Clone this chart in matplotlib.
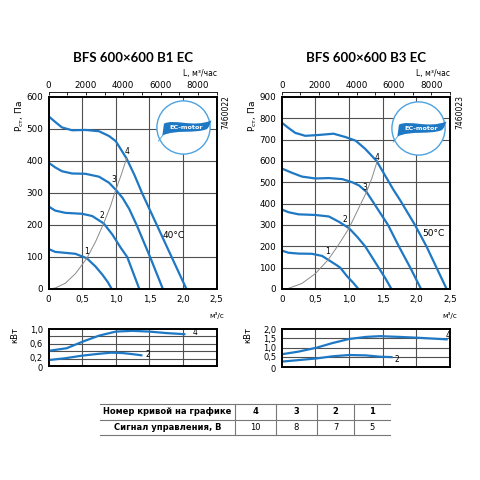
import numpy as np
import matplotlib.pyplot as plt
import matplotlib.transforms as mtransforms
from matplotlib.patches import Circle, PathPatch
from matplotlib.path import Path
from matplotlib.lines import Line2D

# ---- BFS 600x600 B1 EC (left) : flow m3/s, static pressure Pa ----
b1_q4 = [0, 0.1, 0.2, 0.35, 0.55, 0.75, 0.9, 1.0, 1.16, 1.28, 1.39, 1.61, 1.83, 2.05]
b1_p4 = [540, 522, 505, 496, 497, 493, 478, 462, 408, 355, 300, 200, 100, 0]
b1_q3 = [0, 0.1, 0.2, 0.35, 0.55, 0.75, 0.9, 1.0, 1.1, 1.2, 1.31, 1.51, 1.70]
b1_p3 = [395, 380, 368, 361, 360, 351, 332, 310, 285, 250, 200, 100, 0]
b1_q2 = [0, 0.1, 0.25, 0.5, 0.65, 0.82, 0.95, 1.07, 1.17, 1.26, 1.35]
b1_p2 = [258, 245, 238, 235, 228, 205, 170, 130, 100, 50, 0]
b1_q1 = [0, 0.1, 0.25, 0.4, 0.57, 0.7, 0.8, 0.88, 0.94]
b1_p1 = [125, 116, 113, 110, 96, 70, 45, 22, 0]
b1_sys_q = [0, 0.1, 0.25, 0.4, 0.5, 0.57, 0.7, 0.82, 0.92, 1.0, 1.08, 1.16]
b1_sys_p = [0, 3, 18, 48, 76, 96, 148, 205, 258, 310, 356, 408]
b1_pw_q4 = [0, 0.27, 0.51, 0.75, 1.0, 1.25, 1.5, 1.75, 2.02]
b1_pw_n4 = [0.41, 0.48, 0.66, 0.82, 0.93, 0.95, 0.93, 0.89, 0.86]
b1_pw_q2 = [0, 0.25, 0.5, 0.75, 0.93, 1.1, 1.25, 1.38]
b1_pw_n2 = [0.16, 0.21, 0.28, 0.33, 0.36, 0.35, 0.32, 0.29]

# ---- BFS 600x600 B3 EC (right) ----
b3_q4 = [0, 0.1, 0.2, 0.35, 0.55, 0.77, 0.95, 1.1, 1.24, 1.41, 1.66, 1.76, 1.98, 2.15, 2.30, 2.45]
b3_p4 = [780, 755, 732, 718, 722, 728, 712, 695, 657, 600, 465, 416, 300, 200, 100, 0]
b3_q3 = [0, 0.15, 0.3, 0.5, 0.7, 0.9, 1.05, 1.15, 1.26, 1.4, 1.58, 1.74, 1.91, 2.07]
b3_p3 = [565, 545, 527, 518, 520, 515, 500, 485, 455, 387, 300, 200, 100, 0]
b3_q2 = [0, 0.1, 0.25, 0.5, 0.7, 0.85, 1.0, 1.12, 1.24, 1.34, 1.44, 1.54, 1.63]
b3_p2 = [373, 360, 350, 347, 340, 315, 285, 245, 200, 150, 100, 50, 0]
b3_q1 = [0, 0.1, 0.25, 0.45, 0.6, 0.69, 0.8, 0.87, 0.97, 1.06, 1.14]
b3_p1 = [180, 170, 166, 165, 155, 137, 115, 100, 60, 30, 0]
b3_sys_q = [0, 0.1, 0.3, 0.5, 0.69, 0.85, 1.0, 1.13, 1.26, 1.34, 1.42]
b3_sys_p = [0, 3, 26, 72, 137, 210, 285, 370, 455, 520, 600]
b3_pw_q4 = [0, 0.25, 0.52, 0.75, 1.0, 1.25, 1.46, 1.75, 2.0, 2.25, 2.45]
b3_pw_n4 = [0.66, 0.8, 1.01, 1.25, 1.47, 1.58, 1.62, 1.58, 1.54, 1.49, 1.45]
b3_pw_q2 = [0, 0.25, 0.52, 0.75, 1.0, 1.25, 1.46, 1.63]
b3_pw_n2 = [0.27, 0.35, 0.44, 0.55, 0.62, 0.6, 0.53, 0.51]

x_ticks = [0, 0.5, 1.0, 1.5, 2.0, 2.5]
x_labels = ['0', '0,5', '1,0', '1,5', '2,0', '2,5']
top_ticks = [0, 2000, 4000, 6000, 8000]

curve_numbers = ['4', '3', '2', '1']
control_signal = ['10', '8', '7', '5']

BLUE = '#1f78c4'
GRID = '#505050'
FS = 6.3

fig = plt.figure(figsize=(4.8, 4.8), dpi=100)


def px_rect(x0, y0, x1, y1):
    return [x0 / 480, 1 - y1 / 480, (x1 - x0) / 480, (y1 - y0) / 480]


def style_box(ax):
    for s in ax.spines.values():
        s.set_linewidth(1.4)
        s.set_color('black')


def draw_logo(rect):
    lg = fig.add_axes(rect)
    lg.set_xlim(-1.05, 1.05)
    lg.set_ylim(-1.05, 1.05)
    lg.set_aspect('equal')
    lg.axis('off')
    lg.add_patch(Circle((0, 0), 0.98, facecolor='white', edgecolor='#4da3e0', lw=1.0))
    verts = [(-0.72, 0.14),
             (-0.35, 0.34), (0.35, -0.02), (1.03, 0.26),
             (0.97, 0.1), (0.93, -0.0), (0.86, -0.06),
             (0.4, -0.24), (-0.3, -0.06), (-0.78, -0.3),
             (-0.72, 0.14)]
    codes = [Path.MOVETO, Path.CURVE4, Path.CURVE4, Path.CURVE4,
             Path.CURVE4, Path.CURVE4, Path.CURVE4,
             Path.CURVE4, Path.CURVE4, Path.CURVE4, Path.CLOSEPOLY]
    lg.add_patch(PathPatch(Path(verts, codes), facecolor='#1f78c4', edgecolor='none'))
    lg.plot([-0.76, -0.85, -0.93], [-0.28, -0.4, -0.5], color='#4da3e0', lw=0.6)
    lg.text(0.08, -0.0, 'EC-motor', color='white', fontsize=4.6, fontweight='bold',
            ha='center', va='center')


def draw_panel(x0, x1, ymax, ystep, curves, sysq, sysp, labels, temp, power, pw_ticks,
               pw_labels, pw_max, pw_step, pw_labelpos, title, code, pw_bottom):
    ax = fig.add_axes(px_rect(x0, 97, x1, 289))
    for q in x_ticks[1:-1]:
        ax.axvline(q, color=GRID, lw=0.8, zorder=0)
    for p in np.arange(ystep, ymax, ystep):
        ax.axhline(p, color=GRID, lw=0.8, zorder=0)
    for q, p in curves:
        ax.plot(q, p, color=BLUE, lw=1.6, solid_capstyle='round')
    ax.plot(sysq, sysp, color='#8a8a8a', lw=0.7)
    for txt, (lx, ly) in labels.items():
        ax.text(lx, ly, txt, fontsize=5.5, ha='center', va='center')
    ax.text(temp[1], temp[2], temp[0], fontsize=6.5, ha='center', va='center')
    ax.set_xlim(0, 2.5)
    ax.set_ylim(0, ymax)
    ax.set_xticks(x_ticks)
    ax.set_xticklabels(x_labels)
    ax.set_yticks(np.arange(0, ymax + 1, ystep))
    ax.tick_params(length=0, labelsize=FS, pad=4)
    style_box(ax)
    ax.text(1.0, -0.12, 'м³/с', transform=ax.transAxes, fontsize=5.2, ha='center', va='top')
    ax.text(-0.17, 0.9, 'Р$_{\\mathregular{ст}}$, Па', transform=ax.transAxes, rotation=90,
            fontsize=6.5, ha='center', va='center')
    ax.text(1.03, 0.92, code, transform=ax.transAxes, rotation=90, fontsize=5.5,
            ha='left', va='center')

    sec = ax.secondary_xaxis(1.027, functions=(lambda v: v * 3600, lambda v: v / 3600))
    sec.set_xticks(top_ticks)
    sec.set_xticks(np.arange(0, 9001, 1000), minor=True)
    sec.tick_params(which='both', direction='in', length=2.5, width=0.6, labelsize=FS, pad=1)
    sec.spines['top'].set_linewidth(0.6)
    ax.text(1.0, 1.1, 'L, м³/час', transform=ax.transAxes, fontsize=5.5, ha='right', va='bottom')
    ax.set_title(title, fontsize=9.5, fontweight='bold', family='Lato', pad=25)

    pw = fig.add_axes(px_rect(x0, 329, x1, pw_bottom))
    for q in x_ticks[1:-1]:
        pw.axvline(q, color=GRID, lw=0.8, zorder=0)
    for n in np.arange(pw_step, pw_max - 1e-6, pw_step):
        pw.axhline(n, color=GRID, lw=0.8, zorder=0)
    for (q, n), (lbl, lx, ly) in zip(power, pw_labelpos):
        pw.plot(q, n, color=BLUE, lw=1.6)
        pw.text(lx, ly, lbl, fontsize=5.5, ha='center', va='center')
    pw.set_xlim(0, 2.5)
    pw.set_ylim(0, pw_max)
    pw.set_xticks([])
    pw.set_yticks(pw_ticks)
    pw.set_yticklabels(pw_labels)
    pw.tick_params(length=0, labelsize=6.0, pad=4)
    labs = pw.get_yticklabels()
    # the two lowest labels sit close together: pull them slightly apart
    labs[0].set_transform(labs[0].get_transform() +
                          mtransforms.ScaledTranslation(0, -1.5 / 100, fig.dpi_scale_trans))
    labs[1].set_transform(labs[1].get_transform() +
                          mtransforms.ScaledTranslation(0, 1.0 / 100, fig.dpi_scale_trans))
    style_box(pw)
    pw.text(-0.2, 0.85, 'кВт', transform=pw.transAxes, rotation=90, fontsize=6,
            ha='center', va='center')
    return ax


draw_panel(48.5, 216.7, 600, 100,
           [(b1_q4, b1_p4), (b1_q3, b1_p3), (b1_q2, b1_p2), (b1_q1, b1_p1)],
           b1_sys_q, b1_sys_p,
           {'4': (1.17, 429), '3': (0.97, 343), '2': (0.79, 231), '1': (0.57, 117)},
           ('40°C', 1.86, 167),
           [(b1_pw_q4, b1_pw_n4), (b1_pw_q2, b1_pw_n2)],
           [0, 0.2, 0.6, 1.0], ['0', '0,2', '0,6', '1,0'], 1.0, 0.2,
           [('4', 2.18, 0.9), ('2', 1.47, 0.3)],
           'BFS 600×600 B1 EC', '7460022', 366)

draw_panel(281.7, 450, 900, 100,
           [(b3_q4, b3_p4), (b3_q3, b3_p3), (b3_q2, b3_p2), (b3_q1, b3_p1)],
           b3_sys_q, b3_sys_p,
           {'4': (1.42, 618), '3': (1.24, 478), '2': (0.94, 326), '1': (0.68, 176)},
           ('50°C', 2.25, 261),
           [(b3_pw_q4, b3_pw_n4), (b3_pw_q2, b3_pw_n2)],
           [0, 0.5, 1.0, 1.5, 2.0], ['0', '0,5', '1,0', '1,5', '2,0'], 2.0, 0.5,
           [('4', 2.47, 1.68), ('2', 1.71, 0.36)],
           'BFS 600×600 B3 EC', '7460023', 366.7)

draw_logo(px_rect(155, 99, 212, 156))
draw_logo(px_rect(390, 100, 447, 157))

# ---- table ----
col_edges = [100, 235, 276, 317, 354, 390]
row_lines = [404, 419.5, 435]
for y in row_lines:
    fig.add_artist(Line2D([col_edges[0] / 480, col_edges[-1] / 480], [1 - y / 480] * 2,
                          color='#777777', lw=0.8))
for x in col_edges[1:-1]:
    fig.add_artist(Line2D([x / 480] * 2, [1 - row_lines[0] / 480, 1 - row_lines[-1] / 480],
                          color='#777777', lw=0.8))
row_c = [(row_lines[0] + row_lines[1]) / 2, (row_lines[1] + row_lines[2]) / 2]
fig.text((col_edges[0] + col_edges[1]) / 2 / 480, 1 - row_c[0] / 480, 'Номер кривой на графике',
         fontsize=6, fontweight='bold', ha='center', va='center')
fig.text((col_edges[0] + col_edges[1]) / 2 / 480, 1 - row_c[1] / 480, 'Сигнал управления, В',
         fontsize=6, fontweight='bold', ha='center', va='center')
for i in range(4):
    xc = (col_edges[i + 1] + col_edges[i + 2]) / 2 / 480
    fig.text(xc, 1 - row_c[0] / 480, curve_numbers[i], fontsize=6, fontweight='bold',
             ha='center', va='center')
    fig.text(xc, 1 - row_c[1] / 480, control_signal[i], fontsize=6, ha='center', va='center')

fig.savefig('out.png', dpi=100)
